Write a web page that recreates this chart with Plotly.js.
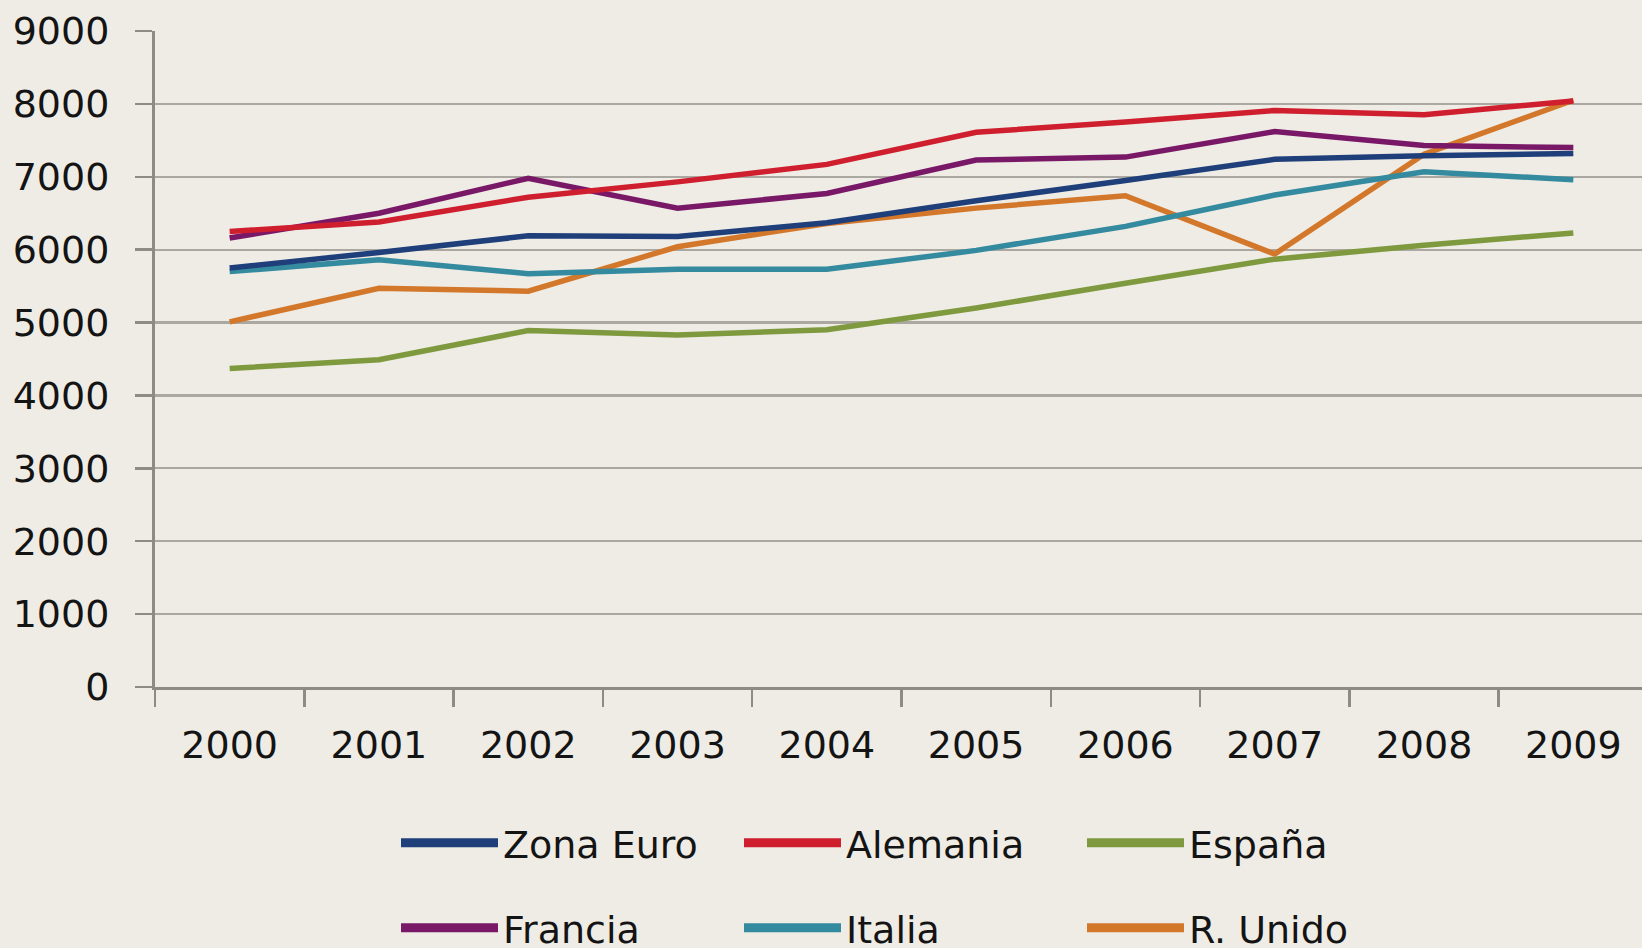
<!DOCTYPE html>
<html>
<head>
<meta charset="utf-8">
<script src="https://cdn.plot.ly/plotly-3.0.1.min.js"></script>
<style>
html,body{margin:0;padding:0;background:#efece5;}
#chart{width:1642px;height:948px;}
</style>
</head>
<body>
<div id="chart"></div>
<script>
// Categories
const years = ['2000','2001','2002','2003','2004','2005','2006','2007','2008','2009'];
// Series names
const seriesNames = ['Zona Euro','Alemania','España','Francia','Italia','R. Unido'];
// Series values
const zonaEuro = [5750, 5960, 6190, 6180, 6370, 6670, 6950, 7240, 7290, 7320];
const alemania = [6250, 6380, 6720, 6930, 7170, 7610, 7750, 7910, 7850, 8040];
const espana   = [4370, 4490, 4890, 4830, 4900, 5200, 5540, 5870, 6060, 6230];
const francia  = [6160, 6500, 6980, 6570, 6770, 7230, 7270, 7620, 7430, 7400];
const italia   = [5700, 5860, 5670, 5730, 5730, 5990, 6320, 6750, 7070, 6960];
const rUnido   = [5010, 5470, 5430, 6040, 6360, 6570, 6740, 5940, 7310, 8050];
// Y tick values
const yTicks = [0, 1000, 2000, 3000, 4000, 5000, 6000, 7000, 8000, 9000];

const seriesValues = [zonaEuro, alemania, espana, francia, italia, rUnido];
const colors = ['#1f3f7a', '#cf1f2e', '#7f9a3e', '#7a1868', '#348a9e', '#d3772b'];
const drawOrder = [2, 5, 4, 0, 3, 1];

const traces = [];
drawOrder.forEach(i => {
  traces.push({
    type: 'scatter', mode: 'lines', x: years, y: seriesValues[i],
    name: seriesNames[i], showlegend: false,
    line: {color: colors[i], width: 5.5},
    hoverinfo: 'x+y+name'
  });
});
seriesNames.forEach((n, i) => {
  traces.push({
    type: 'scatter', mode: 'lines', x: [null], y: [null],
    name: n, showlegend: true, legend: i < 3 ? 'legend' : 'legend2',
    line: {color: colors[i], width: 9}
  });
});

const tickFont = {family: 'DejaVu Sans', size: 38, color: '#141414'};
const legFont = {family: 'DejaVu Sans', size: 38, color: '#141414'};
const legBase = {
  orientation: 'h', xref: 'container', yref: 'container',
  xanchor: 'left', yanchor: 'middle',
  entrywidth: 231, entrywidthmode: 'pixels', itemwidth: 97,
  font: legFont, bgcolor: 'rgba(0,0,0,0)', borderwidth: 0,
  traceorder: 'normal'
};

const layout = {
  width: 1642, height: 948,
  paper_bgcolor: '#efece5', plot_bgcolor: '#efece5',
  margin: {l: 155, r: 0, t: 31, b: 261, autoexpand: false},
  xaxis: {
    type: 'category', range: [-0.5, 9.46],
    tickson: 'boundaries', ticks: 'outside', ticklen: 17, tickwidth: 2.5, tickcolor: '#8e8b87',
    showgrid: false, zeroline: false,
    showline: true, linecolor: '#8e8b87', linewidth: 3,
    tickfont: tickFont, ticklabelstandoff: 22
  },
  yaxis: {
    range: [0, 9000], tickvals: yTicks, ticktext: yTicks.map(String),
    ticks: 'outside', ticklen: 17, tickwidth: 2.5, tickcolor: '#8e8b87',
    showgrid: true, gridcolor: '#aba8a2', gridwidth: 2.3,
    zeroline: false, showline: true, linecolor: '#8e8b87', linewidth: 3,
    tickfont: tickFont, ticklabelstandoff: 18
  },
  legend: Object.assign({}, legBase, {x: 396/1642, y: 1 - 843/948}),
  legend2: Object.assign({}, legBase, {x: 396/1642, y: 1 - 928/948}),
  showlegend: true
};

Plotly.newPlot('chart', traces, layout, {displayModeBar: false, staticPlot: true});
</script>
</body>
</html>
